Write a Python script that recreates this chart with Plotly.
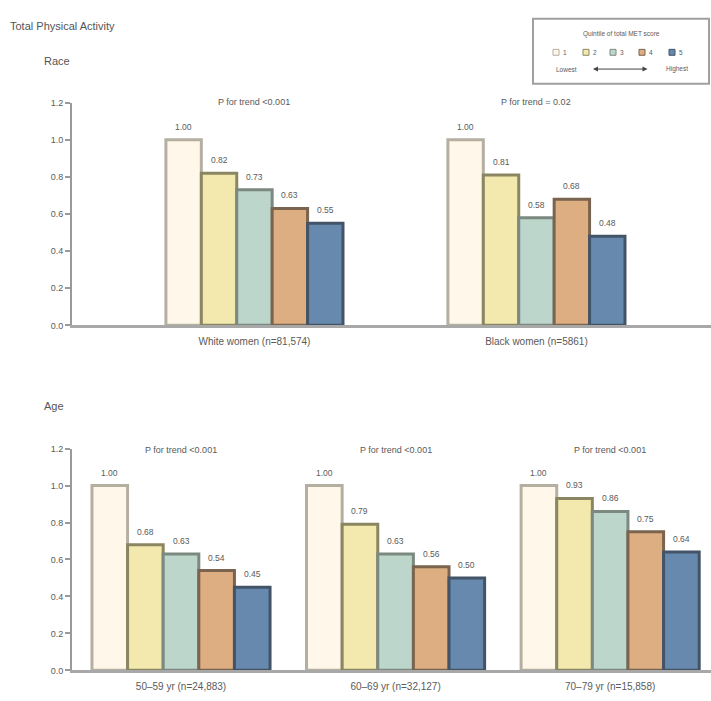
import plotly.graph_objects as go

# Relative risk by quintile of total MET score
quintiles = ["1", "2", "3", "4", "5"]

race_groups = ["White women (n=81,574)", "Black women (n=5861)"]
race_values = [
    [1.00, 0.82, 0.73, 0.63, 0.55],
    [1.00, 0.81, 0.58, 0.68, 0.48],
]
race_trend = ["P for trend <0.001", "P for trend = 0.02"]

age_groups = ["50–59 yr (n=24,883)", "60–69 yr (n=32,127)", "70–79 yr (n=15,858)"]
age_values = [
    [1.00, 0.68, 0.63, 0.54, 0.45],
    [1.00, 0.79, 0.63, 0.56, 0.50],
    [1.00, 0.93, 0.86, 0.75, 0.64],
]
age_trend = ["P for trend <0.001", "P for trend <0.001", "P for trend <0.001"]

y_ticks = [0.0, 0.2, 0.4, 0.6, 0.8, 1.0, 1.2]

fill_colors = ["#FFF8EA", "#F3E9AE", "#BDD6CB", "#DCAE81", "#6689AD"]
line_colors = ["#B5AFA1", "#8A8662", "#7C8980", "#7A644F", "#435468"]

W, H = 711, 701
FONT = "Liberation Sans"
TXT = "#5a5a5a"


def px(x):
    return x / W


def py(y):
    return 1 - y / H


fig = go.Figure()


def add_panel(groups, values, xa, ya, group_width):
    bw = group_width / len(quintiles)
    for q in range(len(quintiles)):
        ys = [row[q] for row in values]
        offs = -group_width / 2 + q * bw
        fig.add_trace(go.Bar(
            x=list(range(len(groups))),
            y=ys,
            width=[bw] * len(groups),
            offset=[offs] * len(groups),
            marker=dict(color=fill_colors[q],
                        line=dict(color=line_colors[q], width=3)),
            xaxis=xa, yaxis=ya,
            showlegend=False,
            hoverinfo="skip",
        ))
        # value label above each bar
        for g, v in enumerate(ys):
            fig.add_annotation(
                text=f"{v:.2f}", x=g + offs + bw / 2, y=v,
                xref=xa, yref=ya, showarrow=False,
                xanchor="center", yanchor="bottom", yshift=6,
                font=dict(size=8.5, color=TXT, family=FONT),
            )


add_panel(race_groups, race_values, "x", "y", 0.628)
add_panel(age_groups, age_values, "x2", "y2", 0.83)

axis_common = dict(
    showgrid=False, zeroline=False,
    tickfont=dict(size=9, color=TXT, family=FONT),
)

y_common = dict(
    axis_common,
    range=[0, 1.2],
    tickvals=y_ticks,
    ticktext=[f"{t:.1f}" for t in y_ticks],
    showline=True, linecolor="#9a9a9a", linewidth=2,
    ticks="outside", ticklen=5, tickcolor="#9a9a9a", tickwidth=1.5,
)

x_common = dict(
    axis_common,
    showline=True, linecolor="#a8a8a8", linewidth=3,
    ticks="", tickfont=dict(size=10, color=TXT, family=FONT),
    ticklabelstandoff=5,
)

fig.update_layout(
    width=W, height=H,
    margin=dict(l=0, r=0, t=0, b=0),
    paper_bgcolor="white", plot_bgcolor="white",
    barmode="overlay",
    font=dict(family=FONT, color=TXT),
    xaxis=dict(x_common, domain=[px(72), 1], range=[-0.647, 1.619],
               tickvals=list(range(len(race_groups))), ticktext=race_groups,
               anchor="y"),
    yaxis=dict(y_common, domain=[py(325), py(99)], anchor="x"),
    xaxis2=dict(x_common, domain=[px(72), 1], range=[-0.508, 2.47],
                tickvals=list(range(len(age_groups))), ticktext=age_groups,
                anchor="y2"),
    yaxis2=dict(y_common, domain=[py(675), py(450)], anchor="x2"),
)


def label(text, x, y, size, anchor="left", color=TXT):
    fig.add_annotation(text=text, x=px(x), y=py(y), xref="paper", yref="paper",
                       xanchor=anchor, yanchor="middle", showarrow=False,
                       font=dict(size=size, color=color, family=FONT))


# Section headings
label("Total Physical Activity", 8, 21, 11, color="#555")
label("Race", 42, 57, 11, color="#555")
label("Age", 42, 407, 11, color="#555")

# Trend p-values above each group
for i, t in enumerate(race_trend):
    fig.add_annotation(text=t, x=i, y=py(98), xref="x", yref="paper",
                       showarrow=False, yanchor="middle",
                       font=dict(size=9, color=TXT, family=FONT))
for i, t in enumerate(age_trend):
    fig.add_annotation(text=t, x=i, y=py(451), xref="x2", yref="paper",
                       showarrow=False, yanchor="middle",
                       font=dict(size=9, color=TXT, family=FONT))

# Quintile key box
fig.add_shape(type="rect", xref="paper", yref="paper",
              x0=px(533), x1=px(709), y0=py(80), y1=py(14),
              line=dict(color="#a0a0a0", width=2), fillcolor="white")
label("Quintile of total MET score", 621, 29, 6.5, anchor="center")
key_x = [556, 586, 613, 642, 672]
for q, kx in enumerate(key_x):
    fig.add_shape(type="rect", xref="paper", yref="paper",
                  x0=px(kx - 3), x1=px(kx + 3), y0=py(51), y1=py(45),
                  fillcolor=fill_colors[q],
                  line=dict(color=line_colors[q], width=1))
    label(quintiles[q], kx + 5, 48, 6.5)
label("Lowest", 554, 65, 6.5)
label("Highest", 690, 65, 6.5, anchor="right")
# Double-headed arrow between "Lowest" and "Highest"
fig.add_annotation(x=px(593), y=py(65), ax=56, ay=0,
                   xref="paper", yref="paper",
                   showarrow=True, arrowhead=2, arrowside="end+start",
                   arrowsize=1, arrowwidth=1, arrowcolor="#444", text="")

fig.write_html("out.html")
